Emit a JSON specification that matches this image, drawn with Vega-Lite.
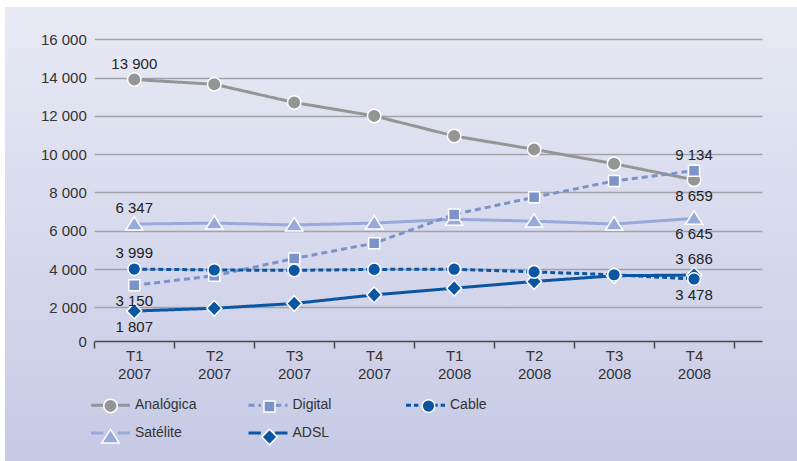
{
  "$schema": "https://vega.github.io/schema/vega-lite/v6.json",
  "width": 792,
  "height": 454,
  "autosize": {"type": "none"},
  "padding": {"left": 5, "top": 7, "right": 0, "bottom": 0},
  "background": "white",
  "view": {
    "stroke": null,
    "fill": {"gradient": "linear", "x1": 0, "y1": 0, "x2": 0, "y2": 1,
      "stops": [{"offset": 0, "color": "#e8eaf5"}, {"offset": 1, "color": "#c7cae5"}]}
  },
  "config": {
    "locale": {"number": {"decimal": ",", "thousands": " ", "grouping": [3], "currency": ["", " €"]}},
    "font": "Liberation Sans"
  },
  "data": {"values": [
    {"q": "T1 2007", "s": "Analógica", "v": 13900},
    {"q": "T2 2007", "s": "Analógica", "v": 13650},
    {"q": "T3 2007", "s": "Analógica", "v": 12700},
    {"q": "T4 2007", "s": "Analógica", "v": 12000},
    {"q": "T1 2008", "s": "Analógica", "v": 10950},
    {"q": "T2 2008", "s": "Analógica", "v": 10250},
    {"q": "T3 2008", "s": "Analógica", "v": 9500},
    {"q": "T4 2008", "s": "Analógica", "v": 8659},
    {"q": "T1 2007", "s": "Satélite", "v": 6347},
    {"q": "T2 2007", "s": "Satélite", "v": 6400},
    {"q": "T3 2007", "s": "Satélite", "v": 6300},
    {"q": "T4 2007", "s": "Satélite", "v": 6400},
    {"q": "T1 2008", "s": "Satélite", "v": 6600},
    {"q": "T2 2008", "s": "Satélite", "v": 6500},
    {"q": "T3 2008", "s": "Satélite", "v": 6350},
    {"q": "T4 2008", "s": "Satélite", "v": 6645},
    {"q": "T1 2007", "s": "Digital", "v": 3150},
    {"q": "T2 2007", "s": "Digital", "v": 3650},
    {"q": "T3 2007", "s": "Digital", "v": 4550},
    {"q": "T4 2007", "s": "Digital", "v": 5350},
    {"q": "T1 2008", "s": "Digital", "v": 6850},
    {"q": "T2 2008", "s": "Digital", "v": 7750},
    {"q": "T3 2008", "s": "Digital", "v": 8600},
    {"q": "T4 2008", "s": "Digital", "v": 9134},
    {"q": "T1 2007", "s": "ADSL", "v": 1807},
    {"q": "T2 2007", "s": "ADSL", "v": 1950},
    {"q": "T3 2007", "s": "ADSL", "v": 2200},
    {"q": "T4 2007", "s": "ADSL", "v": 2650},
    {"q": "T1 2008", "s": "ADSL", "v": 3000},
    {"q": "T2 2008", "s": "ADSL", "v": 3350},
    {"q": "T3 2008", "s": "ADSL", "v": 3650},
    {"q": "T4 2008", "s": "ADSL", "v": 3686},
    {"q": "T1 2007", "s": "Cable", "v": 3999},
    {"q": "T2 2007", "s": "Cable", "v": 3950},
    {"q": "T3 2007", "s": "Cable", "v": 3930},
    {"q": "T4 2007", "s": "Cable", "v": 3980},
    {"q": "T1 2008", "s": "Cable", "v": 3990},
    {"q": "T2 2008", "s": "Cable", "v": 3850},
    {"q": "T3 2008", "s": "Cable", "v": 3700},
    {"q": "T4 2008", "s": "Cable", "v": 3478}
  ]},
  "encoding": {
    "x": {
      "field": "q", "type": "ordinal",
      "scale": {"type": "band",
        "domain": ["T1 2007", "T2 2007", "T3 2007", "T4 2007", "T1 2008", "T2 2008", "T3 2008", "T4 2008"],
        "range": [89.3, 757], "paddingInner": 0, "paddingOuter": 0.175, "align": 0},
      "axis": {"title": null, "orient": "bottom", "offset": -120, "tickBand": "extent",
        "tickSize": 7, "tickColor": "#4a4a4a", "tickWidth": 1.5,
        "domainColor": "#4a4a4a", "domainWidth": 1.5, "grid": false,
        "labelExpr": "split(datum.label, ' ')", "labelLineHeight": 18,
        "labelFontSize": 15, "labelColor": "#333333", "labelPadding": 0, "labelAngle": 0}
    },
    "y": {
      "field": "v", "type": "quantitative",
      "scale": {"domain": [0, 16000], "range": [338.6, 32.3], "nice": false},
      "axis": {"title": null, "offset": -89.3,
        "values": [0, 2000, 4000, 6000, 8000, 10000, 12000, 14000, 16000],
        "format": ",d", "domain": false, "ticks": false, "tickSize": 0,
        "labelPadding": 8, "labelFontSize": 15, "labelColor": "#333333",
        "grid": true, "gridColor": "#a2a2aa", "gridWidth": 1.5,
        "gridOpacity": {"condition": {"test": "datum.value === 0", "value": 0}, "value": 1},
        "labelOffset": {"condition": {"test": "datum.value === 0", "value": -4}, "value": 0}}
    }
  },
  "layer": [
    {
      "mark": {"type": "line", "strokeWidth": 3},
      "encoding": {
        "color": {"field": "s", "type": "nominal",
          "scale": {"domain": ["Analógica", "Digital", "Cable", "Satélite", "ADSL"],
            "range": ["#959595", "#7b93c9", "#0b56a3", "#98aad9", "#0b56a3"]},
          "legend": {"orient": "none", "direction": "horizontal", "legendX": 91, "legendY": 383.5, "title": null,
            "columns": 3, "gridAlign": "all", "columnPadding": 45.5, "rowPadding": 6, "padding": 0,
            "symbolType": "M-1.5,0L-0.55,0M0.55,0L1.5,0", "symbolSize": 676, "symbolStrokeWidth": 3,
            "labelOffset": 10, "labelFontSize": 14, "labelColor": "#333333"}},
        "strokeDash": {"field": "s", "type": "nominal",
          "scale": {"domain": ["Analógica", "Digital", "Cable", "Satélite", "ADSL"],
            "range": [[1, 0], [6, 4], [5, 3], [1, 0], [1, 0]]},
          "legend": {"orient": "none", "direction": "horizontal", "legendX": 91, "legendY": 383.5, "title": null,
            "columns": 3, "gridAlign": "all", "columnPadding": 45.5, "rowPadding": 6, "padding": 0,
            "symbolType": "M-1.5,0L-0.55,0M0.55,0L1.5,0", "symbolSize": 676, "symbolStrokeWidth": 3,
            "labelOffset": 10, "labelFontSize": 14, "labelColor": "#333333"}}
      }
    },
    {
      "mark": {"type": "point", "filled": true, "size": 729, "stroke": "white", "strokeWidth": 1.5, "opacity": 1},
      "encoding": {
        "color": {"field": "s", "type": "nominal",
          "legend": {"orient": "none", "direction": "horizontal", "legendX": 91, "legendY": 383.5, "title": null,
            "columns": 3, "gridAlign": "all", "columnPadding": 58, "rowPadding": 6, "padding": 0,
            "symbolSize": 729, "symbolStrokeWidth": 1.5, "symbolStrokeColor": "white",
            "labelOffset": 10, "labelFontSize": 14, "labelOpacity": 0}},
        "shape": {"field": "s", "type": "nominal",
          "scale": {"domain": ["Analógica", "Digital", "Cable", "Satélite", "ADSL"],
            "range": [
              "M0.5,0A0.5,0.5,0,1,1,-0.5,0A0.5,0.5,0,1,1,0.5,0Z",
              "M-0.41,-0.41L0.41,-0.41L0.41,0.41L-0.41,0.41Z",
              "M0.47,0A0.47,0.47,0,1,1,-0.47,0A0.47,0.47,0,1,1,0.47,0Z",
              "M0,-0.56L0.64,0.44L-0.64,0.44Z",
              "M0,-0.58L0.56,0L0,0.58L-0.56,0Z"]},
          "legend": {"orient": "none", "direction": "horizontal", "legendX": 91, "legendY": 383.5, "title": null,
            "columns": 3, "gridAlign": "all", "columnPadding": 58, "rowPadding": 6, "padding": 0,
            "symbolSize": 729, "symbolStrokeWidth": 1.5, "symbolStrokeColor": "white",
            "labelOffset": 10, "labelFontSize": 14, "labelOpacity": 0}}
      }
    },
    {
      "transform": [{"filter": "(datum.q == 'T1 2007' && indexof(['Analógica', 'Satélite', 'Cable'], datum.s) >= 0) || (datum.q == 'T4 2008' && indexof(['Digital', 'ADSL'], datum.s) >= 0)"}],
      "mark": {"type": "text", "dy": -16, "fontSize": 15, "color": "#222222"},
      "encoding": {"text": {"field": "v", "type": "quantitative", "format": ",d"}}
    },
    {
      "transform": [{"filter": "(datum.q == 'T1 2007' && indexof(['Digital', 'ADSL'], datum.s) >= 0) || (datum.q == 'T4 2008' && indexof(['Analógica', 'Satélite', 'Cable'], datum.s) >= 0)"}],
      "mark": {"type": "text", "dy": 16, "fontSize": 15, "color": "#222222"},
      "encoding": {"text": {"field": "v", "type": "quantitative", "format": ",d"}}
    }
  ],
  "resolve": {"legend": {"color": "independent", "shape": "independent", "strokeDash": "independent"}}
}
